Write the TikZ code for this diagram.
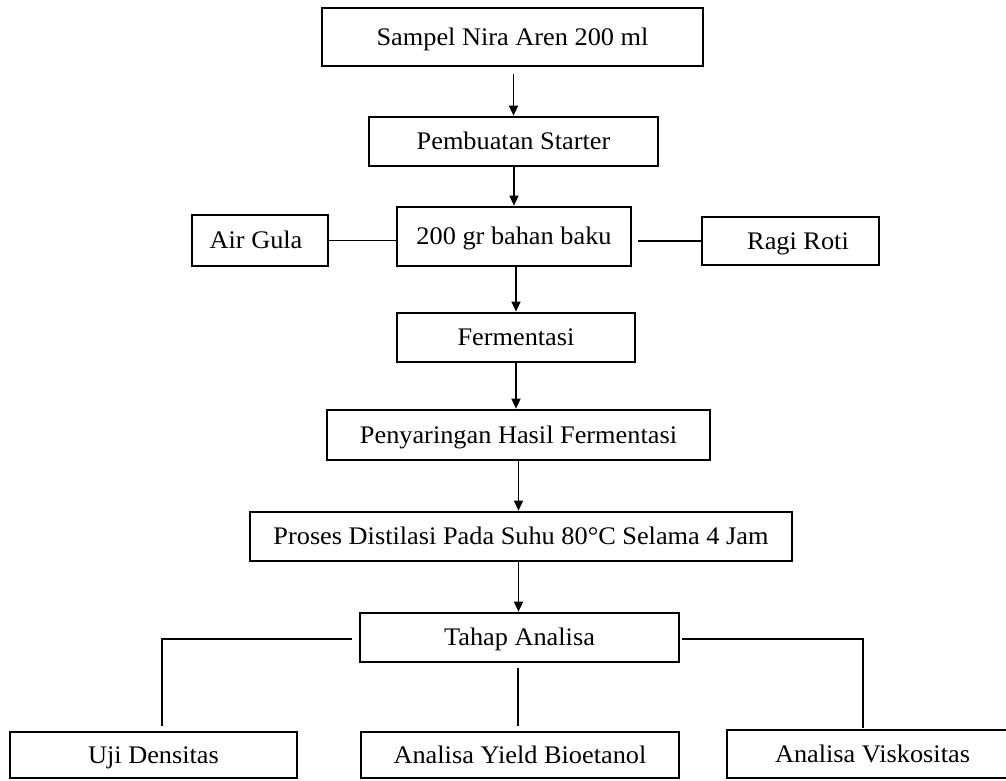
\documentclass[tikz,border=0pt]{standalone}
\usepackage{fontspec}
\setmainfont{Liberation Serif}[FakeStretch=1.04]
\usetikzlibrary{arrows.meta,calc}
\tikzset{
  box/.style={draw, line width=2.7pt, inner sep=0pt, anchor=center,
    text height=16.7pt, text depth=0pt,
    font=\fontsize{25.3}{30}\selectfont},
  ln/.style={line width=1.4pt},
  arr/.style={line width=1.4pt, -{Triangle[length=10pt,width=9pt]}}
}
\begin{document}
\begin{tikzpicture}[x=1pt,y=-1pt]
\useasboundingbox (0,0) rectangle (1006,780);
\clip (0,0) rectangle (1006,780);
\node[box, minimum width=381pt, minimum height=58pt] (b1) at (512.5,37) {Sampel Nira Aren 200 ml};
\node[box, minimum width=289pt, minimum height=49pt] (b2) at (513.5,141.5) {Pembuatan Starter};
\node[box, minimum width=234pt, minimum height=59pt] (b3) at (514,236.5) {200 gr bahan baku};
\node[box, minimum width=136pt, minimum height=51pt] (ag) at (260,240.5) {Air Gula\hspace*{8pt}};
\node[box, minimum width=177pt, minimum height=48pt] (rr) at (790.5,241) {\hspace*{15pt}Ragi Roti};
\node[box, minimum width=238pt, minimum height=49pt] (b4) at (516,337.5) {Fermentasi};
\node[box, minimum width=383pt, minimum height=50pt] (b5) at (518.5,435) {Penyaringan Hasil Fermentasi};
\node[box, minimum width=542pt, minimum height=49pt] (b6) at (521,536.5) {Proses Distilasi Pada Suhu 80°C Selama 4 Jam};
\node[box, minimum width=319pt, minimum height=49pt] (b7) at (519.5,637.5) {Tahap Analisa};
\node[box, minimum width=287pt, minimum height=46pt] (u1) at (153.5,755) {Uji Densitas};
\node[box, minimum width=318pt, minimum height=46pt] (u2) at (520,755) {Analisa Yield Bioetanol};
\node[box, minimum width=291pt, minimum height=48pt] (u3) at (872.5,754) {Analisa Viskositas};

\draw[arr] ($(b1.south -| b2.north)+(0,7)$) -- (b2.north);
\draw[arr] (b3.north |- b2.south) -- (b3.north);
\draw[arr] (b4.north |- b3.south) -- (b4.north);
\draw[arr] (b4.south) -- (b4.south |- b5.north);
\draw[arr] (b5.south) -- (b5.south |- b6.north);
\draw[arr] (b6.south -| b5.south) -- (b7.north -| b5.south);

\draw[ln] (ag.east) -- (ag.east -| b3.west);
\draw[ln] ($(b3.east |- rr.west)+(6,0)$) -- (rr.west);

\draw[ln] ($(b7.west)+(-7,1.5)$) -| ($(u1.north)+(8.5,-5)$);
\draw[ln] ($(b7.east)+(1.5,1.5)$) -| ($(u3.north)+(-9.5,-1)$);
\draw[ln] ($(b7.south)+(-1.5,5)$) -- ($(u2.north)+(-2,-5)$);
\end{tikzpicture}
\end{document}
